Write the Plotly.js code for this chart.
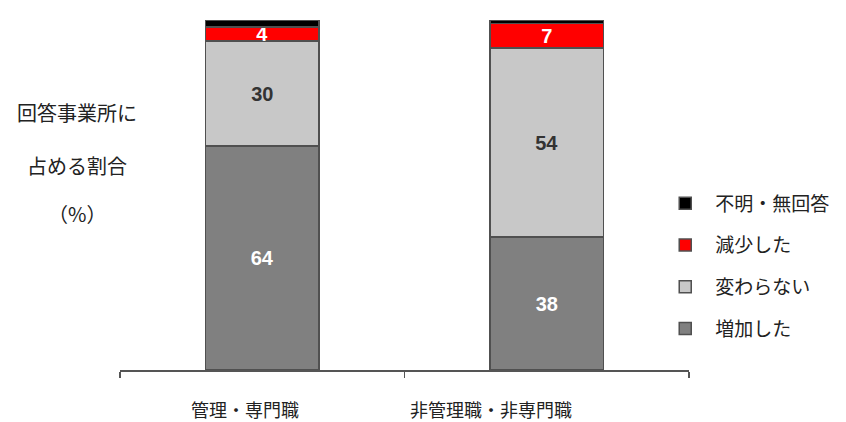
<!DOCTYPE html>
<html>
<head>
<meta charset="utf-8">
<script src="https://cdn.plot.ly/plotly-3.0.1.min.js"></script>
<style>
  html, body { margin: 0; padding: 0; background: #fff; }
  #chart { width: 846px; height: 422px; }
</style>
</head>
<body>
<div id="chart"></div>
<script>
// Job categories on the x axis
const categories = ['管理・専門職', '非管理職・非専門職'];

// Share of responding establishments (%) per answer
const increased = [64, 38];   // 増加した
const unchanged = [30, 54];   // 変わらない
const decreased = [4, 7];     // 減少した
const unknown   = [2, 1];     // 不明・無回答

const seriesNames  = ['増加した', '変わらない', '減少した', '不明・無回答'];
const seriesValues = [increased, unchanged, decreased, unknown];
const seriesColors = ['#808080', '#c8c8c8', '#ff0000', '#000000'];
const labelColors  = ['#ffffff', '#333333', '#ffffff', '#ffffff'];
const showLabels   = [true, true, true, false];

const cjk = '"Noto Sans CJK JP", "Noto Sans", sans-serif';
const numFont = '"Liberation Sans Narrow", "Liberation Sans", Arial, sans-serif';

const traces = seriesNames.map((name, i) => ({
  type: 'bar',
  name: name,
  legendgroup: 'g' + i,
  legendrank: 4 - i,           // top segment listed first
  x: categories,
  y: seriesValues[i],
  width: 0.4,
  marker: { color: seriesColors[i], line: { color: '#505050', width: 1.5 } },
  text: showLabels[i] ? seriesValues[i].map(String) : undefined,
  textposition: showLabels[i] ? 'inside' : 'none',
  insidetextanchor: 'middle',
  textangle: 0,
  constraintext: 'none',
  textfont: { family: numFont, size: 20, color: labelColors[i], weight: 'bold' },
  hoverinfo: 'name+y'
}));

// Category labels set below the axis line
const catAnnotations = categories.map((c, i) => ({
  x: c, xref: 'x', y: 0, yref: 'paper', yanchor: 'middle',
  yshift: -39, xshift: [-17, -56][i],
  text: c, showarrow: false,
  font: { family: cjk, size: 18, color: '#222' }
}));

// Vertical-axis caption in three lines
const titleLines = ['回答事業所に', '占める割合', '（%）'];
const titleY = [0.737, 0.583, 0.446];
const titleAnnotations = titleLines.map((t, i) => ({
  x: -0.0754, xref: 'paper', y: titleY[i], yref: 'paper',
  xanchor: 'center', yanchor: 'middle',
  text: t, showarrow: false,
  font: { family: cjk, size: 20, color: '#222' }
}));

const layout = {
  width: 846, height: 422,
  margin: { l: 120, r: 156, t: 20, b: 52 },
  paper_bgcolor: '#ffffff', plot_bgcolor: '#ffffff',
  barmode: 'stack',
  showlegend: true,
  legend: {
    x: 0.939, xanchor: 'left', y: 0.53, yanchor: 'top',
    traceorder: 'grouped', tracegroupgap: 14,
    itemwidth: 50,
    font: { family: cjk, size: 19, color: '#222' },
    bgcolor: 'rgba(0,0,0,0)'
  },
  xaxis: {
    type: 'category', range: [-0.5, 1.5],
    showline: true, linecolor: '#555', linewidth: 1.5,
    ticks: 'outside', tickson: 'boundaries', ticklen: 6, tickcolor: '#555', tickwidth: 1.5,
    showticklabels: false, showgrid: false, zeroline: false, fixedrange: true
  },
  yaxis: {
    range: [0, 100], visible: false, showgrid: false, zeroline: false, fixedrange: true
  },
  annotations: catAnnotations.concat(titleAnnotations)
};

Plotly.newPlot('chart', traces, layout, { displayModeBar: false, staticPlot: true });
</script>
</body>
</html>
